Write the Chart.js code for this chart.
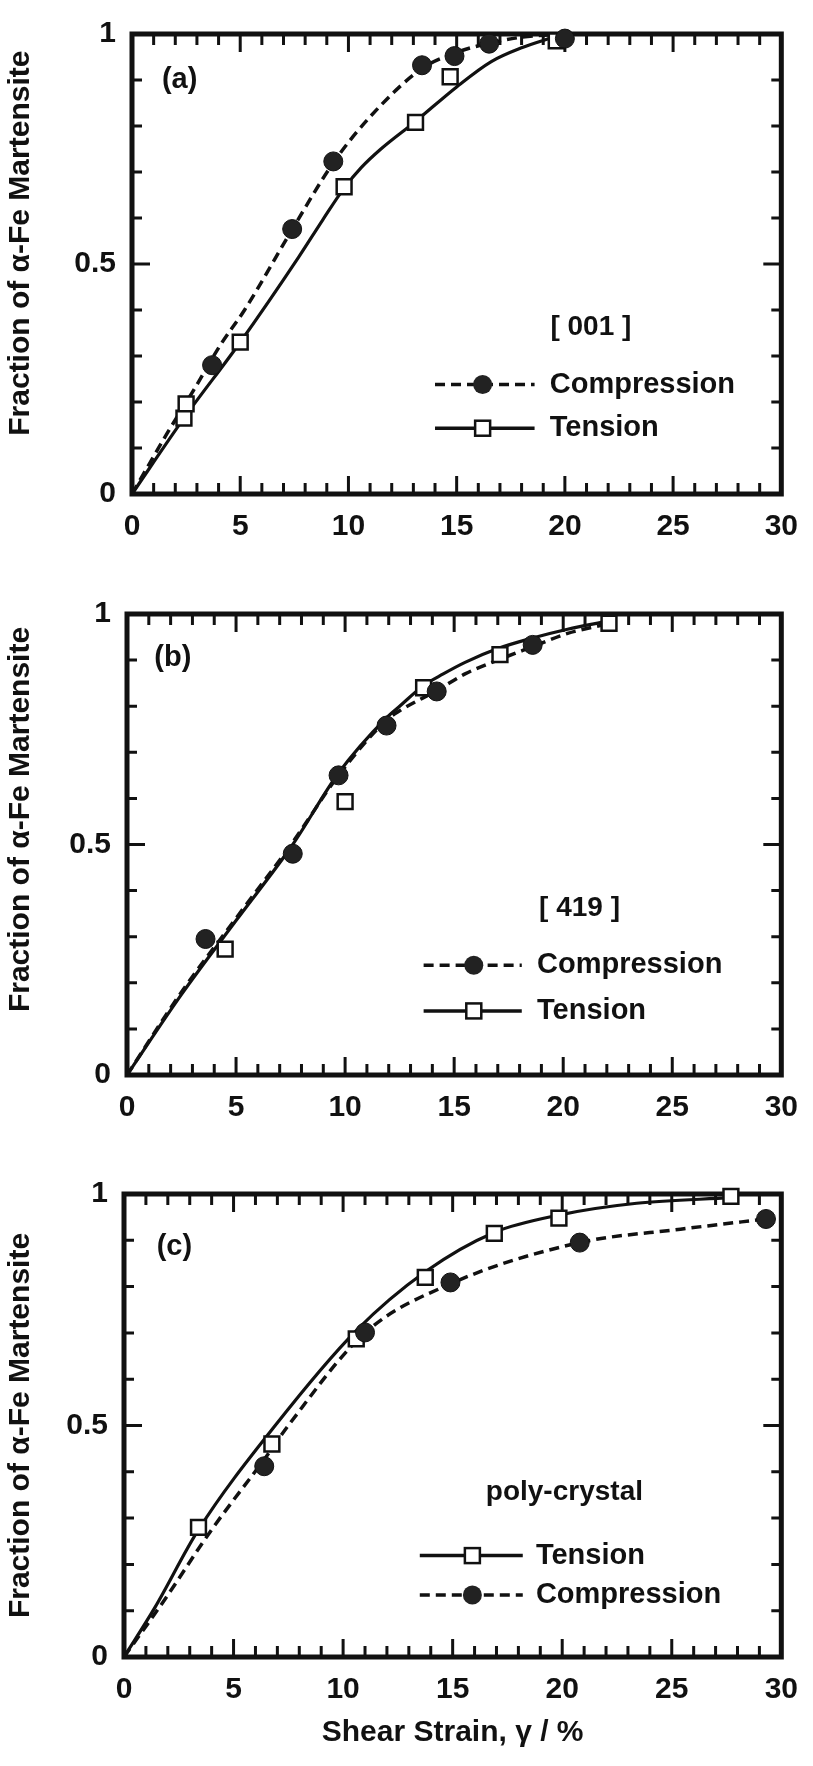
<!DOCTYPE html>
<html>
<head>
<meta charset="utf-8">
<script src="https://cdn.jsdelivr.net/npm/chart.js@4.4.1/dist/chart.umd.min.js"></script>
<style>
html, body { margin: 0; padding: 0; background: #fff; }
#wrap { position: relative; width: 813px; height: 1766px; }
canvas { position: absolute; left: 0; }
</style>
</head>
<body>
<div id="wrap">
<canvas id="chartA" width="813" height="580" style="top:0px"></canvas>
<canvas id="chartB" width="813" height="580" style="top:580px"></canvas>
<canvas id="chartC" width="813" height="606" style="top:1160px"></canvas>
</div>
<script>
// shear strain (%) and martensite fraction

// (a) [001]
const aCompX = [3.7, 7.4, 9.3, 13.4, 14.9, 16.5, 20.0];
const aCompY = [0.28, 0.576, 0.723, 0.932, 0.952, 0.979, 0.99];
const aTensX = [2.4, 2.5, 5.0, 9.8, 13.1, 14.7, 19.6];
const aTensY = [0.165, 0.196, 0.33, 0.668, 0.808, 0.907, 0.985];
const aCompCurveX = [0, 1.6, 2.8, 4.1, 5.2, 7.4, 9.3, 11.0, 13.4, 15.0, 16.5, 18.0, 20.0];
const aCompCurveY = [0, 0.13, 0.222, 0.325, 0.40, 0.575, 0.72, 0.82, 0.925, 0.96, 0.98, 0.993, 1.0];
const aTensCurveX = [0, 2.4, 5.0, 7.7, 8.8, 9.8, 10.6, 11.5, 13.1, 15.0, 16.6, 18.0, 19.6];
const aTensCurveY = [0, 0.165, 0.33, 0.515, 0.595, 0.665, 0.71, 0.75, 0.81, 0.885, 0.94, 0.97, 0.995];

// (b) [419]
const bCompX = [3.6, 7.6, 9.7, 11.9, 14.2, 18.6];
const bCompY = [0.295, 0.48, 0.65, 0.758, 0.832, 0.933];
const bTensX = [4.5, 10.0, 13.6, 17.1, 22.1];
const bTensY = [0.273, 0.593, 0.84, 0.912, 0.98];
const bCompCurveX = [0, 2.5, 5.0, 7.6, 9.7, 11.9, 12.5, 14.25, 15.5, 17.0, 18.65, 20.2, 22.0];
const bCompCurveY = [0, 0.18, 0.34, 0.505, 0.65, 0.77, 0.79, 0.835, 0.87, 0.90, 0.93, 0.958, 0.978];
const bTensCurveX = [0, 2.5, 5.0, 7.6, 9.7, 11.9, 12.5, 13.6, 14.5, 15.5, 17.0, 18.6, 20.2, 22.0];
const bTensCurveY = [0, 0.175, 0.335, 0.50, 0.655, 0.775, 0.80, 0.845, 0.87, 0.895, 0.925, 0.948, 0.967, 0.984];

// (c) poly-crystal
const cTensX = [3.4, 6.75, 10.6, 13.75, 16.9, 19.85, 27.7];
const cTensY = [0.28, 0.46, 0.687, 0.82, 0.915, 0.948, 0.995];
const cCompX = [6.4, 11.0, 14.9, 20.8, 29.3];
const cCompY = [0.412, 0.701, 0.809, 0.895, 0.946];
const cTensCurveX = [0, 1.4, 3.4, 6.9, 10.6, 13.75, 16.9, 19.9, 23.4, 27.7];
const cTensCurveY = [0, 0.106, 0.275, 0.50, 0.705, 0.832, 0.917, 0.955, 0.98, 0.992];
const cCompCurveX = [0, 1.8, 4.0, 6.45, 7.5, 11.0, 14.9, 20.8, 25.4, 29.3];
const cCompCurveY = [0, 0.12, 0.275, 0.43, 0.50, 0.70, 0.806, 0.895, 0.924, 0.946];

const xTicks = [0, 5, 10, 15, 20, 25, 30];
const yTicks = [0, 0.5, 1];

const FONT = "'Liberation Sans', Arial, Helvetica, sans-serif";
const INK = '#111';
const Y_TITLE = 'Fraction of α-Fe Martensite';
Chart.defaults.font.family = FONT;
Chart.defaults.font.weight = 'bold';
Chart.defaults.color = INK;

function pts(xs, ys) {
  return xs.map((x, i) => ({x: x, y: ys[i]}));
}

const compStyle = {pointStyle: 'circle', pointRadius: 9.5, backgroundColor: '#222', borderColor: INK, borderWidth: 1};
const tensStyle = {pointStyle: 'rect', pointRadius: 10.5, backgroundColor: '#fff', borderColor: INK, borderWidth: 2.5};

// frame with inward ticks on all four sides
const framePlugin = {
  id: 'frame',
  beforeDatasetsDraw(chart) {
    const {ctx, chartArea: a, scales: {x, y}} = chart;
    ctx.save();
    ctx.strokeStyle = INK;
    ctx.lineWidth = 3;
    ctx.beginPath();
    for (let v = x.min; v <= x.max; v++) {
      const px = x.getPixelForValue(v);
      const len = v % 5 === 0 ? 18 : 11;
      ctx.moveTo(px, a.bottom); ctx.lineTo(px, a.bottom - len);
      ctx.moveTo(px, a.top); ctx.lineTo(px, a.top + len);
    }
    for (let i = 0; i <= 10; i++) {
      const py = y.getPixelForValue(i / 10);
      const len = i % 5 === 0 ? 18 : 10;
      ctx.moveTo(a.left, py); ctx.lineTo(a.left + len, py);
      ctx.moveTo(a.right, py); ctx.lineTo(a.right - len, py);
    }
    ctx.stroke();
    ctx.lineWidth = 5;
    ctx.strokeRect(a.left, a.top, a.right - a.left, a.bottom - a.top);
    ctx.restore();
  }
};

// panel tag, orientation note and hand-made legend
const notePlugin = {
  id: 'notes',
  afterDatasetsDraw(chart, args, o) {
    const {ctx, scales: {x, y}} = chart;
    ctx.save();
    ctx.fillStyle = INK;
    ctx.textBaseline = 'middle';
    ctx.textAlign = 'center';
    ctx.font = 'bold 29px ' + FONT;
    ctx.fillText(o.tag, x.getPixelForValue(o.tagAt[0]), y.getPixelForValue(o.tagAt[1]));
    ctx.font = 'bold 28px ' + FONT;
    ctx.fillText(o.note, x.getPixelForValue(o.noteAt[0]), y.getPixelForValue(o.noteAt[1]));
    o.legend.forEach((item, i) => {
      const py = y.getPixelForValue(o.legendY[i]);
      const x0 = x.getPixelForValue(o.legendX[0]);
      const x1 = x.getPixelForValue(o.legendX[2]);
      const xm = x.getPixelForValue(o.legendX[1]);
      ctx.strokeStyle = INK;
      ctx.lineWidth = 3.5;
      ctx.setLineDash(item === 'Compression' ? [10, 6] : []);
      ctx.beginPath();
      ctx.moveTo(x0, py); ctx.lineTo(x1, py);
      ctx.stroke();
      ctx.setLineDash([]);
      if (item === 'Compression') {
        ctx.fillStyle = '#222';
        ctx.beginPath();
        ctx.arc(xm, py, 9.5, 0, Math.PI * 2);
        ctx.fill();
      } else {
        ctx.fillStyle = '#fff';
        ctx.lineWidth = 2.5;
        ctx.fillRect(xm - 7.5, py - 7.5, 15, 15);
        ctx.strokeRect(xm - 7.5, py - 7.5, 15, 15);
      }
      ctx.fillStyle = INK;
      ctx.textAlign = 'left';
      ctx.font = 'bold 29px ' + FONT;
      ctx.fillText(item, x.getPixelForValue(o.legendX[3]), py);
      ctx.textAlign = 'center';
    });
    ctx.restore();
  }
};

function makePanel(id, p) {
  const canvas = document.getElementById(id);
  const H = canvas.height;
  // leading no-break spaces nudge the rotated title upward
  const yTitle = '\u00a0'.repeat(p.titleLift) + Y_TITLE;
  return new Chart(canvas, {
    type: 'scatter',
    data: {
      datasets: [
        Object.assign({label: 'Compression', data: pts(p.compX, p.compY), showLine: false, clip: false}, compStyle),
        Object.assign({label: 'Tension', data: pts(p.tensX, p.tensY), showLine: false, clip: false}, tensStyle),
        {label: 'Compression fit', data: pts(p.compCurveX, p.compCurveY), showLine: true, pointRadius: 0,
         borderColor: INK, borderWidth: 3.5, borderDash: [10, 6], cubicInterpolationMode: 'monotone', fill: false},
        {label: 'Tension fit', data: pts(p.tensCurveX, p.tensCurveY), showLine: true, pointRadius: 0,
         borderColor: INK, borderWidth: 3.2, cubicInterpolationMode: 'monotone', fill: false}
      ]
    },
    options: {
      responsive: false,
      animation: false,
      events: [],
      layout: {padding: {top: p.area.top, right: 813 - p.area.right, left: 0, bottom: 0}},
      plugins: {
        legend: {display: false},
        tooltip: {enabled: false},
        notes: p.notes
      },
      scales: {
        x: {
          type: 'linear', min: 0, max: 30,
          afterBuildTicks: s => { s.ticks = xTicks.map(v => ({value: v})); },
          afterFit: s => { s.height = H - p.area.bottom; },
          grid: {display: false, drawTicks: false},
          border: {display: false},
          ticks: {font: {size: 30, weight: 'bold'}, padding: 15, maxRotation: 0, color: INK},
          title: {display: !!p.xTitle, text: p.xTitle || '', font: {size: 30, weight: 'bold'}, padding: {bottom: 15}, color: INK}
        },
        y: {
          type: 'linear', min: 0, max: 1,
          afterBuildTicks: s => { s.ticks = yTicks.map(v => ({value: v})); },
          afterFit: s => { s.width = p.area.left; },
          grid: {display: false, drawTicks: false},
          border: {display: false},
          ticks: {font: {size: 30, weight: 'bold'}, padding: 16, color: INK, callback: v => String(v)},
          title: {display: true, text: yTitle, font: {size: 30, weight: 'bold'}, padding: {top: 3}, color: INK}
        }
      }
    },
    plugins: [framePlugin, notePlugin]
  });
}

makePanel('chartA', {
  compX: aCompX, compY: aCompY, tensX: aTensX, tensY: aTensY,
  compCurveX: aCompCurveX, compCurveY: aCompCurveY, tensCurveX: aTensCurveX, tensCurveY: aTensCurveY,
  area: {left: 132, right: 796, top: 19, bottom: 494}, titleLift: 5,
  notes: {tag: '(a)', tagAt: [2.2, 0.9], note: '[ 001 ]', noteAt: [21.2, 0.362],
          legend: ['Compression', 'Tension'], legendY: [0.238, 0.143], legendX: [14.0, 16.2, 18.6, 19.3]}
});

makePanel('chartB', {
  compX: bCompX, compY: bCompY, tensX: bTensX, tensY: bTensY,
  compCurveX: bCompCurveX, compCurveY: bCompCurveY, tensCurveX: bTensCurveX, tensCurveY: bTensCurveY,
  area: {left: 127, right: 790, top: 22, bottom: 495}, titleLift: 6,
  notes: {tag: '(b)', tagAt: [2.1, 0.905], note: '[ 419 ]', noteAt: [20.75, 0.362],
          legend: ['Compression', 'Tension'], legendY: [0.238, 0.139], legendX: [13.6, 15.9, 18.1, 18.8]}
});

makePanel('chartC', {
  compX: cCompX, compY: cCompY, tensX: cTensX, tensY: cTensY,
  compCurveX: cCompCurveX, compCurveY: cCompCurveY, tensCurveX: cTensCurveX, tensCurveY: cTensCurveY,
  area: {left: 124, right: 789, top: 21, bottom: 497}, titleLift: 0,
  xTitle: 'Shear Strain, γ / %',
  notes: {tag: '(c)', tagAt: [2.3, 0.885], note: 'poly-crystal', noteAt: [20.1, 0.356],
          legend: ['Tension', 'Compression'], legendY: [0.219, 0.134], legendX: [13.5, 15.9, 18.2, 18.8]}
});
</script>
</body>
</html>
